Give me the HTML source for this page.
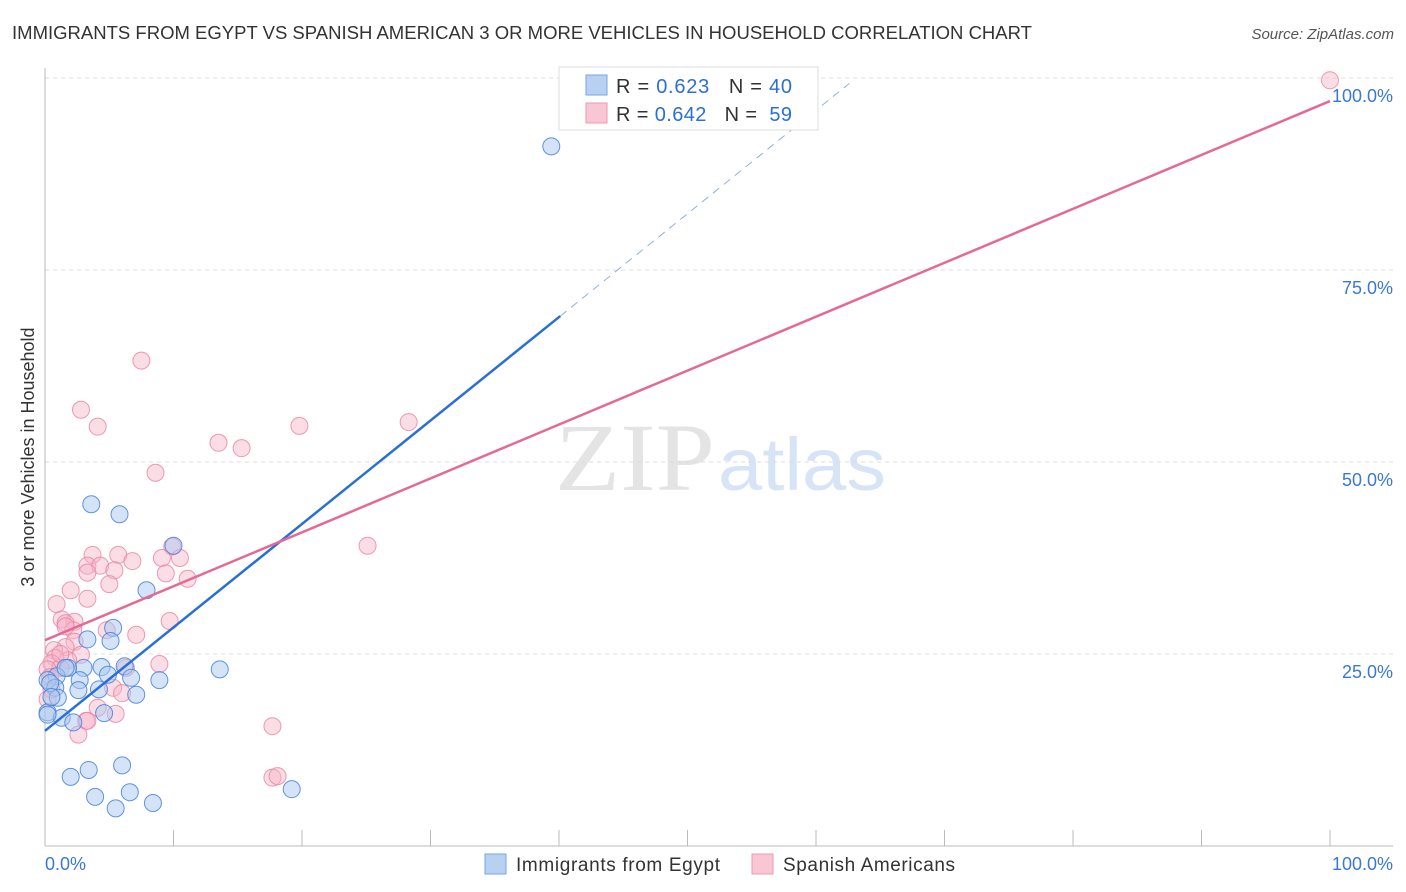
<!DOCTYPE html>
<html><head><meta charset="utf-8"><style>
body{margin:0;background:#fff;font-family:"Liberation Sans",sans-serif}
svg{display:block}
</style></head><body>
<svg id="c" width="1406" height="892">
<text x="12" y="39" font-size="18" fill="#333" textLength="1020" lengthAdjust="spacingAndGlyphs">IMMIGRANTS FROM EGYPT VS SPANISH AMERICAN 3 OR MORE VEHICLES IN HOUSEHOLD CORRELATION CHART</text>
<text x="1394" y="39" font-size="15" fill="#555" text-anchor="end" font-style="italic">Source: ZipAtlas.com</text>
<text x="34" y="457" font-size="18" fill="#333" text-anchor="middle" transform="rotate(-90 34 457)">3 or more Vehicles in Household</text>
<text x="555" y="490" font-size="96" fill="#e4e4e4" textLength="160" lengthAdjust="spacingAndGlyphs" font-family="Liberation Serif,serif">ZIP</text>
<text x="718" y="490" font-size="74" fill="#d6e4f5" textLength="168" lengthAdjust="spacingAndGlyphs">atlas</text>
<g id="grid"></g><g id="pts"></g><g id="lines"></g>
<g>
<rect x="559" y="67" width="259" height="63" fill="#fff" stroke="#ddd"/>
<rect x="586" y="75" width="21" height="20" fill="#b8d0f2" stroke="#7aa6e0"/>
<rect x="586" y="103" width="21" height="20" fill="#f8c6d4" stroke="#eb9ab2"/>
<text x="616" y="93" font-size="20" fill="#333" textLength="176" lengthAdjust="spacing">R = <tspan fill="#2b6fd6">0.623</tspan>&#160;&#160;&#160;N = <tspan fill="#2b6fd6">40</tspan></text>
<text x="616" y="121" font-size="20" fill="#333" textLength="176" lengthAdjust="spacing">R = <tspan fill="#2b6fd6">0.642</tspan>&#160;&#160;&#160;N = &#160;<tspan fill="#2b6fd6">59</tspan></text>
</g>
<g>
<rect x="485" y="854" width="21" height="20" fill="#b8d0f2" stroke="#7aa6e0"/>
<text x="516" y="871" font-size="19" fill="#333" textLength="204">Immigrants from Egypt</text>
<rect x="752" y="854" width="21" height="20" fill="#f8c6d4" stroke="#eb9ab2"/>
<text x="783" y="871" font-size="19" fill="#333" textLength="172">Spanish Americans</text>
</g>
<text x="45" y="870" font-size="18" fill="#3a78d4">0.0%</text>
<text x="1393" y="870" font-size="18" fill="#3a78d4" text-anchor="end">100.0%</text>
</svg>
<script>
const yTicks=[25,50,75,100];
const xTicks=[10,20,30,40,50,60,70,80,90,100];
const egyptX=[39.4,3.6,5.8,10.0,7.9,5.3,3.3,5.1,13.6,8.9,6.2,4.4,3.0,1.8,4.9,6.7,0.9,2.7,0.2,2.6,4.2,7.1,0.8,1.0,0.2,1.3,2.2,4.6,6.0,3.4,2.0,3.9,6.6,5.5,8.4,19.2,0.4,1.6,0.5,0.2];
const egyptY=[91.1,44.5,43.2,39.1,33.3,28.4,26.9,26.7,23.0,21.6,23.4,23.3,23.2,23.2,22.3,21.9,22.1,21.6,21.6,20.3,20.4,19.7,20.6,19.3,17.4,16.7,16.1,17.3,10.5,9.9,9.0,6.4,7.0,4.9,5.6,7.4,21.2,23.2,19.4,17.1];
const spanX=[100,7.5,2.8,4.1,28.3,19.8,13.5,15.3,8.6,25.1,9.9,3.7,9.1,10.5,5.7,6.8,3.3,4.3,3.3,5.4,9.4,11.1,5.0,2.0,3.3,0.9,9.7,1.3,2.3,1.6,2.2,7.1,4.8,2.3,1.6,0.7,2.8,1.8,0.8,6.3,8.9,0.5,1.2,0.2,0.4,5.3,6.0,4.1,5.5,3.2,2.6,3.3,17.7,17.7,18.1,0.5,1.6,0.2,1.2];
const spanY=[99.7,63.2,56.8,54.6,55.2,54.7,52.5,51.8,48.6,39.1,39.0,37.9,37.5,37.5,37.9,37.1,36.5,36.5,35.6,35.9,35.5,34.8,34.1,33.3,32.2,31.5,29.3,29.5,29.2,29.0,28.1,27.5,28.1,26.6,25.9,25.5,24.9,24.2,24.5,23.2,23.7,23.8,23.2,23.0,22.0,20.6,19.9,18.0,17.2,16.3,14.5,16.3,15.6,8.9,9.1,20.4,28.6,19.1,25.0];
const egyptLine=[0,15.0,40.1,69.0,62.6,99.3];
const spanLine=[0,26.8,100,97.0];
const X=v=>45+v*12.85, Y=v=>846-v*7.68;
const NS='http://www.w3.org/2000/svg';
function mk(t,a,p){const e=document.createElementNS(NS,t);for(const k in a)e.setAttribute(k,a[k]);p.appendChild(e);return e;}
const g=document.getElementById('grid');
yTicks.forEach(t=>{
 const l=mk('line',{x1:45,x2:1393,y1:Y(t),y2:Y(t),stroke:'#ddd','stroke-dasharray':'4,4'},g);
 
 
 const tx=mk('text',{x:1393,y:Y(t)+24,'font-size':18,fill:'#3a78d4','text-anchor':'end'},g);
 tx.textContent=t.toFixed(1)+'%';
 
 
});
mk('line',{x1:45,x2:45,y1:68,y2:846,stroke:'#bbb'},g);
mk('line',{x1:45,x2:1393,y1:846,y2:846,stroke:'#bbb'},g);
xTicks.forEach(t=>{
 const l=mk('line',{x1:X(t),x2:X(t),y1:830,y2:846,stroke:'#bbb'},g);
 
 
});
const p=document.getElementById('pts');
spanX.forEach((v,i)=>{
 const c=mk('circle',{cx:X(v),cy:Y(spanY[i]),r:8.5,fill:'rgba(246,180,200,0.45)',stroke:'rgba(232,130,160,0.8)','stroke-width':1},p);
 
 
});
egyptX.forEach((v,i)=>{
 const c=mk('circle',{cx:X(v),cy:Y(egyptY[i]),r:8.5,fill:'rgba(170,200,240,0.5)',stroke:'rgba(70,130,215,0.85)','stroke-width':1},p);
 
 
});
const L=document.getElementById('lines');
const b1=mk('line',{x1:X(egyptLine[0]),y1:Y(egyptLine[1]),x2:X(egyptLine[2]),y2:Y(egyptLine[3]),stroke:'#2a6fd6','stroke-width':2.5},L);


const b2=mk('line',{x1:X(egyptLine[2]),y1:Y(egyptLine[3]),x2:X(egyptLine[4]),y2:Y(egyptLine[5]),stroke:'#8fb0e0','stroke-width':1,'stroke-dasharray':'8,6'},L);


const s1=mk('line',{x1:X(spanLine[0]),y1:Y(spanLine[1]),x2:X(spanLine[2]),y2:Y(spanLine[3]),stroke:'#e46a94','stroke-width':2.5},L);


</script>
</body></html>
